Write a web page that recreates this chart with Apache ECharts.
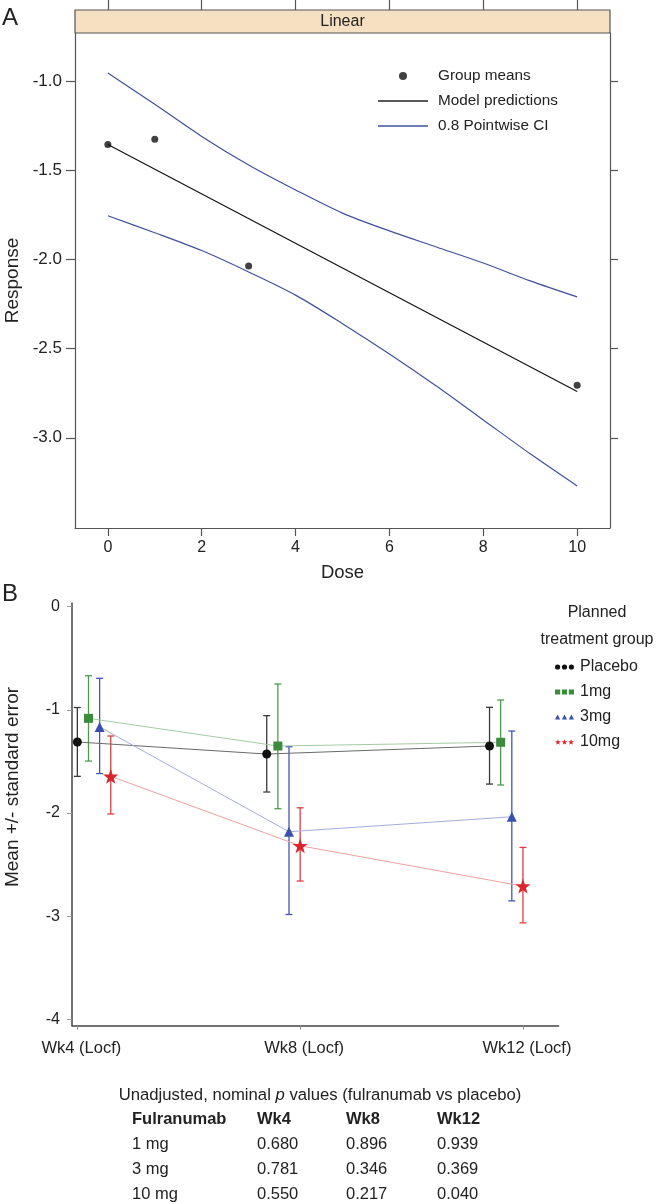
<!DOCTYPE html>
<html><head><meta charset="utf-8">
<script src="https://cdn.jsdelivr.net/npm/echarts@6/dist/echarts.min.js"></script>
<style>html,body{margin:0;padding:0;background:#fff}#c{width:656px;height:1204px}</style>
</head><body><div id="c"></div>
<script>
// ---------- Panel A data ----------
const doseGrid = [0, 1, 2, 3, 4, 5, 6, 7, 8, 9, 10];
const ciUpper = [-0.955, -1.13, -1.31, -1.47, -1.61, -1.74, -1.84, -1.93, -2.02, -2.12, -2.21];
const ciLower = [-1.755, -1.85, -1.95, -2.07, -2.2, -2.36, -2.53, -2.71, -2.9, -3.09, -3.27];
const meanDoses = [0, 1, 3, 10];
const groupMeans = [-1.356, -1.326, -2.037, -2.705];
const modelDoses = [0, 10];
const modelPred = [-1.355, -2.74];
const doseTicks = [0, 2, 4, 6, 8, 10];
const responseTicks = [-1.0, -1.5, -2.0, -2.5, -3.0];

// ---------- Panel B data ----------
const weekLabels = ['Wk4 (Locf)', 'Wk8 (Locf)', 'Wk12 (Locf)'];
const weekTicks = [0, 1, 2];
const groupNames = ['Placebo', '1mg', '3mg', '10mg'];
const placeboX = [0, 0.85, 1.85];
const placeboMean = [-1.312, -1.429, -1.351];
const placeboLo = [-1.645, -1.797, -1.72];
const placeboHi = [-0.978, -1.057, -0.976];
const mg1X = [0.05, 0.9, 1.9];
const mg1Mean = [-1.083, -1.351, -1.315];
const mg1Lo = [-1.497, -1.959, -1.729];
const mg1Hi = [-0.67, -0.75, -0.905];
const mg3X = [0.1, 0.95, 1.95];
const mg3Mean = [-1.166, -2.182, -2.037];
const mg3Lo = [-1.618, -2.984, -2.852];
const mg3Hi = [-0.695, -1.358, -1.206];
const mg10X = [0.15, 1, 2];
const mg10Mean = [-1.645, -2.318, -2.709];
const mg10Lo = [-2.01, -2.66, -3.065];
const mg10Hi = [-1.254, -1.95, -2.334];
const meanTicks = [0, -1, -2, -3, -4];

// ---------- Table ----------
const tableHeader = ['Fulranumab', 'Wk4', 'Wk8', 'Wk12'];
const tableRows = [
  ['1 mg', '0.680', '0.896', '0.939'],
  ['3 mg', '0.781', '0.346', '0.369'],
  ['10 mg', '0.550', '0.217', '0.040']
];

const FONT = '"Liberation Sans", Arial, Helvetica, sans-serif';
const TXT = '#222';
const starPath = 'path://M4,0 L4.94,2.71 L7.8,2.76 L5.52,4.49 L6.35,7.24 L4,5.6 L1.65,7.24 L2.48,4.49 L0.2,2.76 L3.06,2.71 Z';
const lineIcon = 'path://M0,0H50V1.3H0Z';

const colors = { Placebo: '#111111', '1mg': '#3d8b3d', '3mg': '#3b4fae', '10mg': '#d8262c' };
const errColors = { Placebo: '#3a3a3a', '1mg': '#4f9a4f', '3mg': '#4356b6', '10mg': '#dc3f42' };
const lineColors = { Placebo: '#6a6a6a', '1mg': '#a5cba5', '3mg': '#a3acdc', '10mg': '#f0a0a0' };
const symbols = { Placebo: 'circle', '1mg': 'rect', '3mg': 'triangle', '10mg': starPath };
const symSizes = { Placebo: 9, '1mg': 9, '3mg': 10, '10mg': 15 };
const legendIcons = {
  Placebo: 'path://M0,3a3,3 0 1,0 6,0a3,3 0 1,0 -6,0Z M8,3a3,3 0 1,0 6,0a3,3 0 1,0 -6,0Z M16,3a3,3 0 1,0 6,0a3,3 0 1,0 -6,0Z',
  '1mg': 'path://M0,0h6v6h-6Z M8,0h6v6h-6Z M16,0h6v6h-6Z',
  '3mg': 'path://M0,6L3,0L6,6Z M8,6L11,0L14,6Z M16,6L19,0L22,6Z',
  '10mg': 'path://M4,0 L4.94,2.71 L7.8,2.76 L5.52,4.49 L6.35,7.24 L4,5.6 L1.65,7.24 L2.48,4.49 L0.2,2.76 L3.06,2.71 Z M12.5,0 L13.44,2.71 L16.3,2.76 L14.02,4.49 L14.85,7.24 L12.5,5.6 L10.15,7.24 L10.98,4.49 L8.7,2.76 L11.56,2.71 Z M21,0 L21.94,2.71 L24.8,2.76 L22.52,4.49 L23.35,7.24 L21,5.6 L18.65,7.24 L19.48,4.49 L17.2,2.76 L20.06,2.71 Z'
};

const groups = [
  { name: 'Placebo', x: placeboX, mean: placeboMean, lo: placeboLo, hi: placeboHi },
  { name: '1mg', x: mg1X, mean: mg1Mean, lo: mg1Lo, hi: mg1Hi },
  { name: '3mg', x: mg3X, mean: mg3Mean, lo: mg3Lo, hi: mg3Hi },
  { name: '10mg', x: mg10X, mean: mg10Mean, lo: mg10Lo, hi: mg10Hi }
];

function errRender(color) {
  return function (params, api) {
    const x = api.value(0), lo = api.value(1), hi = api.value(2);
    const a = api.coord([x, lo]), b = api.coord([x, hi]);
    const w = 3.5;
    const st = { stroke: color, lineWidth: 1.3 };
    return { type: 'group', children: [
      { type: 'line', shape: { x1: a[0], y1: a[1], x2: b[0], y2: b[1] }, style: st },
      { type: 'line', shape: { x1: a[0] - w, y1: a[1], x2: a[0] + w, y2: a[1] }, style: st },
      { type: 'line', shape: { x1: b[0] - w, y1: b[1], x2: b[0] + w, y2: b[1] }, style: st }
    ] };
  };
}

const seriesB = [];
groups.forEach(g => {
  seriesB.push({
    name: g.name, type: 'line', xAxisIndex: 2, yAxisIndex: 2,
    data: g.x.map((v, i) => [v, g.mean[i]]),
    symbol: symbols[g.name], symbolSize: symSizes[g.name], showSymbol: true,
    itemStyle: { color: colors[g.name] },
    lineStyle: { color: lineColors[g.name], width: 1 },
    z: 5
  });
});
groups.forEach(g => {
  seriesB.push({
    name: g.name, type: 'custom', xAxisIndex: 2, yAxisIndex: 2,
    data: g.x.map((v, i) => [v, g.lo[i], g.hi[i]]),
    encode: { x: 0, y: [1, 2] },
    itemStyle: { color: colors[g.name] },
    renderItem: errRender(errColors[g.name]),
    z: 3
  });
});

const graphics = [
  { type: 'text', x: 2, y: 6, style: { text: 'A', font: '24px ' + FONT, fill: TXT } },
  { type: 'rect', shape: { x: 75, y: 10, width: 535, height: 23 }, style: { fill: '#f6e0c2', stroke: '#555', lineWidth: 1.2 }, z: 10 },
  { type: 'text', x: 342.5, y: 22, z: 11, style: { text: 'Linear', font: '16px ' + FONT, fill: TXT, align: 'center', verticalAlign: 'middle' } },
  { type: 'text', x: 2, y: 582, style: { text: 'B', font: '24px ' + FONT, fill: TXT } },
  { type: 'text', x: 597, y: 613, style: { text: 'Planned', font: '16px ' + FONT, fill: TXT, align: 'center', verticalAlign: 'middle' } },
  { type: 'text', x: 597, y: 640, style: { text: 'treatment group', font: '16px ' + FONT, fill: TXT, align: 'center', verticalAlign: 'middle' } },
  { type: 'text', x: 13, y: 787, rotation: Math.PI / 2, style: { text: 'Mean +/- standard error', font: '19px ' + FONT, fill: TXT, align: 'center', verticalAlign: 'middle' } },
  { type: 'text', x: 320, y: 1095, style: {
      text: '{a|Unadjusted, nominal }{i|p}{a| values (fulranumab vs placebo)}',
      font: '16.7px ' + FONT, fill: TXT, align: 'center', verticalAlign: 'middle',
      rich: { a: { font: '16.7px ' + FONT, fill: TXT }, i: { font: 'italic 16.7px ' + FONT, fill: TXT } } } }
];
const colX = [132, 257, 346, 437];
const rowY = [1119, 1144, 1169, 1194];
tableHeader.forEach((h, j) => graphics.push({ type: 'text', x: colX[j], y: rowY[0],
  style: { text: h, font: 'bold 16.5px ' + FONT, fill: TXT, verticalAlign: 'middle' } }));
tableRows.forEach((r, i) => r.forEach((c, j) => graphics.push({ type: 'text', x: colX[j], y: rowY[i + 1],
  style: { text: c, font: '16.5px ' + FONT, fill: TXT, verticalAlign: 'middle' } })));

const boxLine = { show: true, onZero: false, lineStyle: { color: '#555', width: 1.2 } };
const tickStyle = { color: '#555', width: 1.2 };

const option = {
  animation: false,
  backgroundColor: '#fff',
  textStyle: { fontFamily: FONT },
  grid: [
    { left: 75, top: 33, width: 535, height: 495, containLabel: false, outerBoundsMode: 'none' },
    { left: 72, top: 603, width: 486.6, height: 422.5, containLabel: false, outerBoundsMode: 'none' }
  ],
  xAxis: [
    { type: 'value', gridIndex: 0, min: -0.7, max: 10.7, position: 'bottom',
      name: 'Dose', nameLocation: 'middle', nameGap: 35, nameTextStyle: { fontSize: 18.5, color: TXT, fontFamily: FONT },
      axisLine: boxLine, splitLine: { show: false },
      axisTick: { show: true, inside: false, length: 8, lineStyle: tickStyle, customValues: doseTicks },
      axisLabel: { show: true, fontSize: 16, color: TXT, margin: 12, customValues: doseTicks, fontFamily: FONT } },
    { type: 'value', gridIndex: 0, min: -0.7, max: 10.7, position: 'top', offset: 23,
      axisLine: { show: false }, splitLine: { show: false },
      axisTick: { show: true, inside: false, length: 10, lineStyle: tickStyle, customValues: doseTicks },
      axisLabel: { show: false } },
    { type: 'value', gridIndex: 1, min: -0.024, max: 2.16,
      axisLine: { show: true, onZero: false, lineStyle: { color: '#444', width: 1.5 } }, splitLine: { show: false },
      axisTick: { show: true, length: 4, lineStyle: { color: '#888', width: 1 }, customValues: weekTicks },
      axisLabel: { show: true, fontSize: 16.5, color: TXT, margin: 14, customValues: weekTicks, fontFamily: FONT,
        padding: [0, 0, 0, 8], formatter: v => weekLabels[Math.round(v)] } }
  ],
  yAxis: [
    { type: 'value', gridIndex: 0, min: -3.506, max: -0.73, position: 'left',
      name: 'Response', nameLocation: 'middle', nameGap: 52, nameRotate: 90, nameTextStyle: { fontSize: 19, color: TXT, fontFamily: FONT },
      axisLine: boxLine, splitLine: { show: false },
      axisTick: { show: true, inside: false, length: 9, lineStyle: tickStyle, customValues: responseTicks },
      axisLabel: { show: true, fontSize: 17, color: TXT, margin: 13, customValues: responseTicks, fontFamily: FONT,
        formatter: v => v.toFixed(1) } },
    { type: 'value', gridIndex: 0, min: -3.506, max: -0.73, position: 'right',
      axisLine: boxLine, splitLine: { show: false },
      axisTick: { show: true, inside: false, length: 8, lineStyle: tickStyle, customValues: responseTicks },
      axisLabel: { show: false } },
    { type: 'value', gridIndex: 1, min: -4.06, max: 0.035,
      axisLine: { show: true, onZero: false, lineStyle: { color: '#444', width: 1.5 } }, splitLine: { show: false },
      axisTick: { show: true, length: 5, lineStyle: { color: '#999', width: 1 }, customValues: meanTicks },
      axisLabel: { show: true, fontSize: 16, color: TXT, margin: 12, customValues: meanTicks, fontFamily: FONT,
        formatter: v => String(v) } }
  ],
  legend: [
    { orient: 'vertical', left: 378, top: 67, padding: 0, itemWidth: 50, itemHeight: 8, itemGap: 7,
      textStyle: { fontSize: 15.3, color: TXT, fontFamily: FONT, lineHeight: 18, padding: [0, 0, 0, 5] },
      selectedMode: false,
      data: [{ name: 'Group means', icon: 'circle' }, { name: 'Model predictions', icon: lineIcon }, { name: '0.8 Pointwise CI', icon: lineIcon }] },
    { orient: 'vertical', left: 555, top: 658, padding: 0, itemWidth: 19, itemHeight: 7, itemGap: 7,
      textStyle: { fontSize: 16, color: TXT, fontFamily: FONT, lineHeight: 18, padding: [0, 0, 0, 1] },
      selectedMode: false,
      data: groupNames.map(n => ({ name: n, icon: legendIcons[n], itemStyle: { color: colors[n] } })) }
  ],
  graphic: graphics,
  series: [
    { name: '0.8 Pointwise CI', type: 'line', xAxisIndex: 0, yAxisIndex: 0, smooth: 0.3, symbol: 'none',
      data: doseGrid.map((d, i) => [d, ciUpper[i]]), lineStyle: { color: '#40509e', width: 1.2 }, itemStyle: { color: '#40509e' } },
    { name: '0.8 Pointwise CI', type: 'line', xAxisIndex: 0, yAxisIndex: 0, smooth: 0.3, symbol: 'none',
      data: doseGrid.map((d, i) => [d, ciLower[i]]), lineStyle: { color: '#40509e', width: 1.2 }, itemStyle: { color: '#40509e' } },
    { name: 'Model predictions', type: 'line', xAxisIndex: 0, yAxisIndex: 0, symbol: 'none',
      data: modelDoses.map((d, i) => [d, modelPred[i]]), lineStyle: { color: '#111', width: 1.2 }, itemStyle: { color: '#222' } },
    { name: 'Group means', type: 'scatter', xAxisIndex: 0, yAxisIndex: 0, symbol: 'circle', symbolSize: 7,
      data: meanDoses.map((d, i) => [d, groupMeans[i]]), itemStyle: { color: '#111' }, z: 5 }
  ].concat(seriesB)
};

const chart = echarts.init(document.getElementById('c'), null, { renderer: 'canvas' });
chart.setOption(option);
</script>
</body></html>
